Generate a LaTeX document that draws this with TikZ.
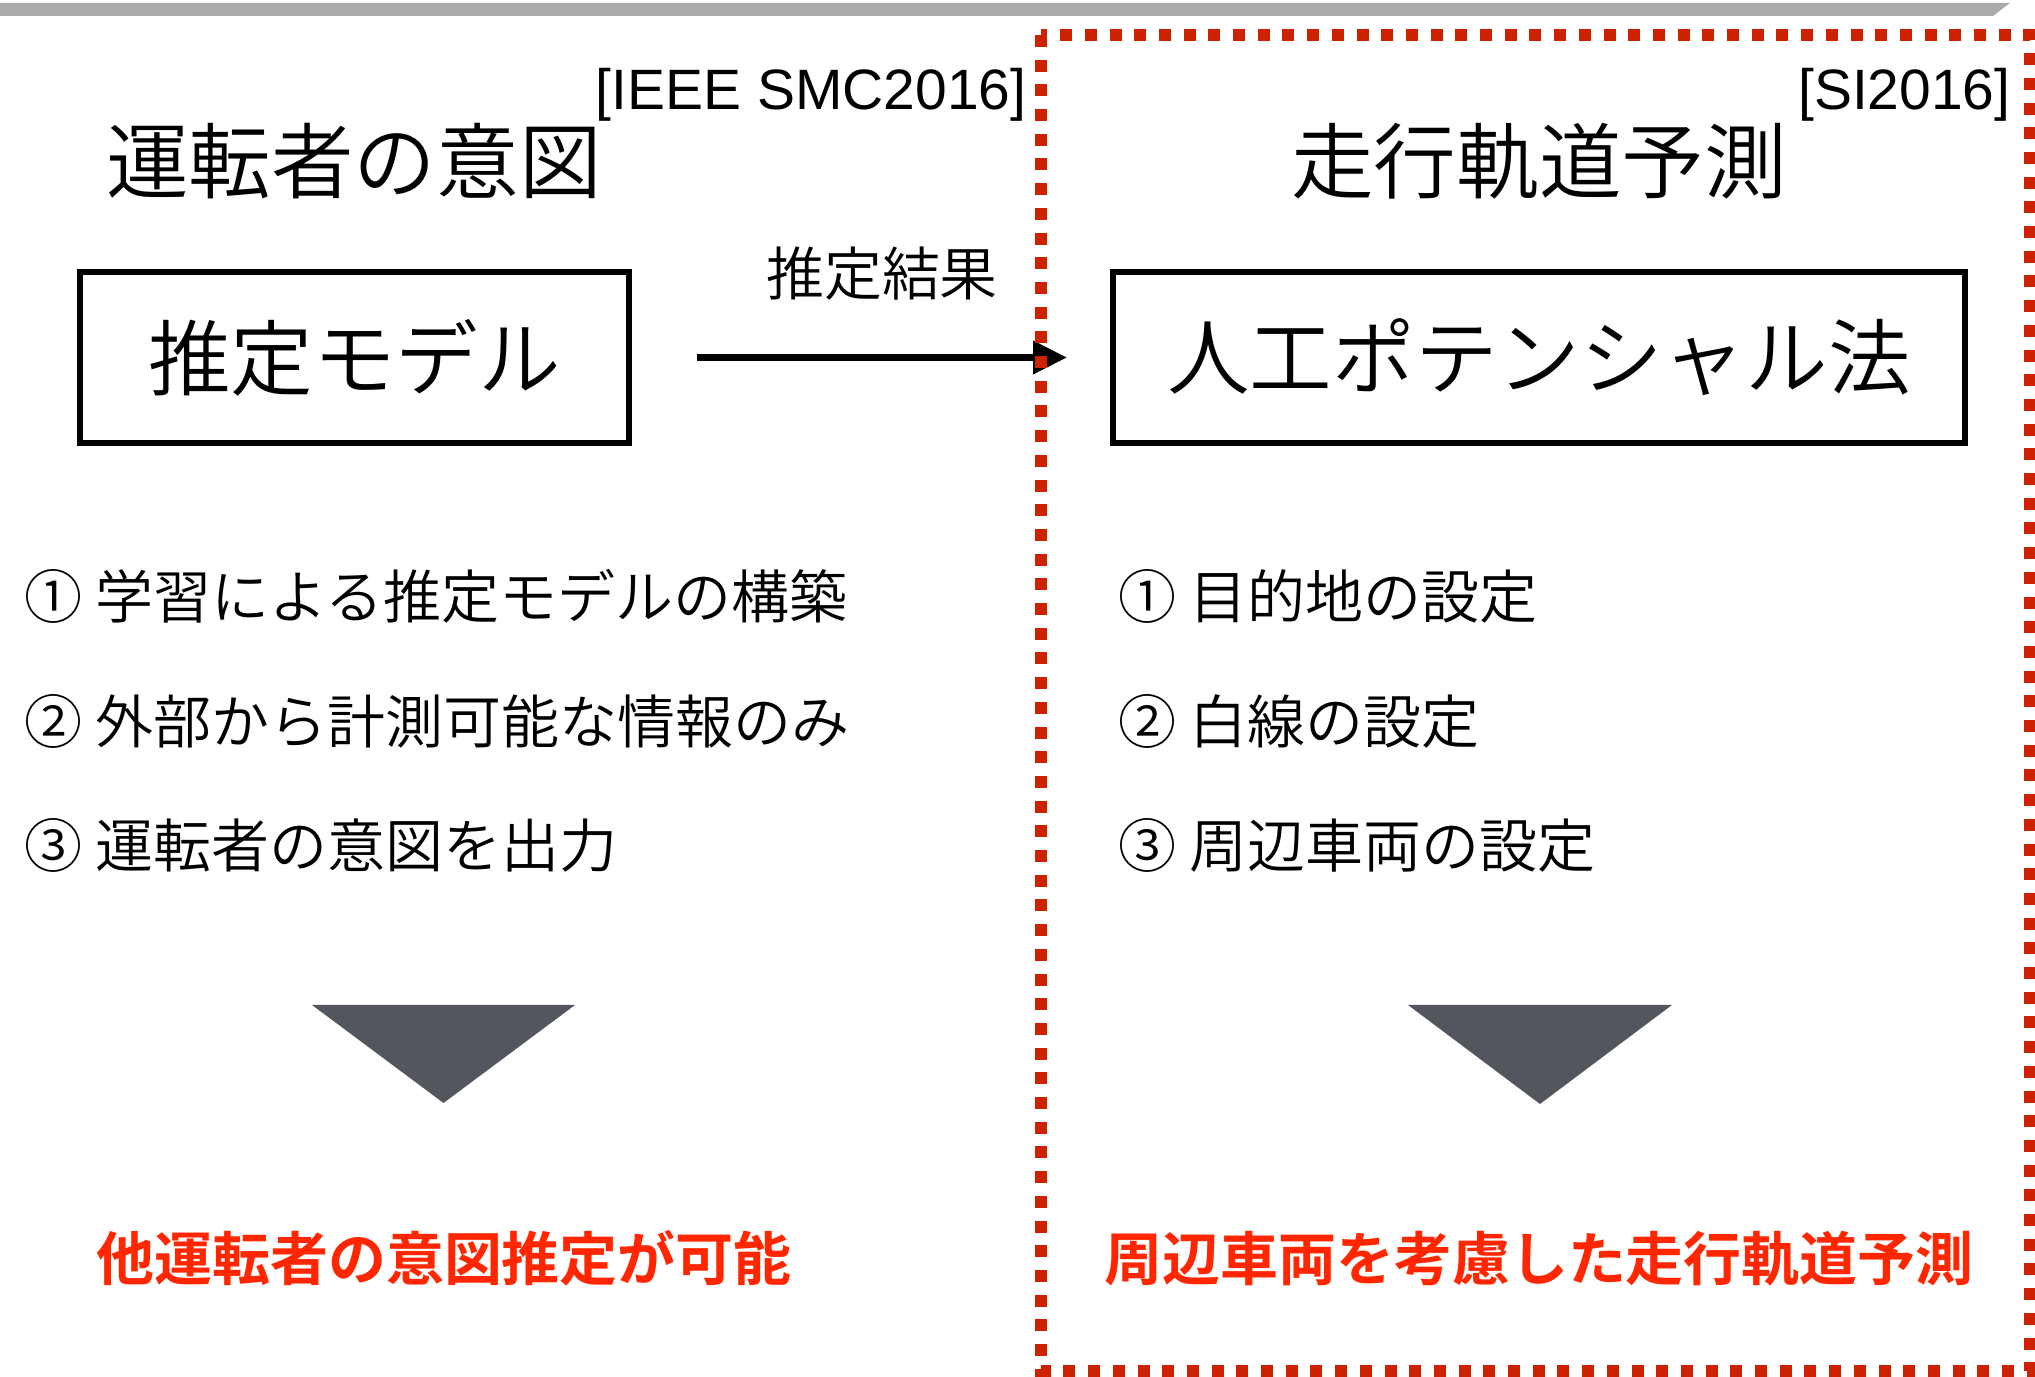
\documentclass[tikz,border=0pt]{standalone}
\usepackage{fontspec}
\setmainfont{Liberation Sans}
\newfontfamily\cjk{Noto Sans CJK JP}[UprightFont={* DemiLight}, BoldFont={* Bold}]
\usetikzlibrary{arrows.meta}
\definecolor{boxred}{RGB}{204,34,0}
\definecolor{txtred}{RGB}{255,38,0}
\definecolor{tricol}{RGB}{83,87,93}
\definecolor{barcol}{RGB}{168,171,170}
\begin{document}
\begin{tikzpicture}[x=0.1mm,y=-0.1mm,
  titletext/.style={font=\cjk\fontsize{23.5pt}{28pt}\selectfont, inner sep=0pt, anchor=base},
  citetext/.style={font=\fontsize{16.2pt}{19pt}\selectfont, inner sep=0pt, anchor=base east},
  boxnode/.style={draw=black, line width=0.6mm, outer sep=0pt, inner sep=0pt, font=\cjk\fontsize{23.5pt}{28pt}\selectfont},
  itemtext/.style={font=\cjk\fontsize{16.5pt}{20pt}\selectfont, inner sep=0pt, anchor=base west},
  labeltext/.style={font=\cjk\fontsize{16.5pt}{20pt}\selectfont, inner sep=0pt, anchor=base},
  restext/.style={font=\cjk\bfseries\fontsize{16.5pt}{20pt}\selectfont, text=txtred, inner sep=0pt, anchor=base},
  arrowline/.style={line width=0.7mm, -{Triangle[length=3.4mm,width=3.2mm]}, shorten <=6.8mm, shorten >=4.6mm},
  tri/.style={fill=tricol},
  frame/.style={draw=boxred, line width=1.2mm, dash pattern=on 1.2mm off 1.27mm}
]
\useasboundingbox (0,0) rectangle (2035,1377);
% top bar
\fill[barcol] (0,3) -- (2010,3) -- (1993,16) -- (0,16) -- cycle;

% titles and citations
\node[citetext] (c1) at (1027,110) {[IEEE SMC2016]};
\node[citetext] (c2) at (2011,110) {[SI2016]};
\node[titletext] (t1) at (354,193) {運転者の意図};
\node[titletext] (t2) at (1539,193) {走行軌道予測};

% boxes
\node[boxnode, minimum width=54.9mm, minimum height=17.1mm] (b1) at (354.5,357.5) {推定モデル};
\node[boxnode, minimum width=85.2mm, minimum height=17.1mm] (b2) at (1539,357.5) {人工ポテンシャル法};
\node[labeltext] (lab) at (882,296) {推定結果};
\draw[arrowline] (b1.east) -- (b2.west);

% lists
\node[itemtext] (l1) at (24,619) {① 学習による推定モデルの構築};
\node[itemtext] (l2) at (24,744) {② 外部から計測可能な情報のみ};
\node[itemtext] (l3) at (24,868) {③ 運転者の意図を出力};
\node[itemtext] (r1) at (1118,619) {① 目的地の設定};
\node[itemtext] (r2) at (1118,744) {② 白線の設定};
\node[itemtext] (r3) at (1118,868) {③ 周辺車両の設定};

% triangles
\fill[tri] (312,1005) -- (575,1005) -- (443.5,1103) -- cycle;
\fill[tri] (1408,1005) -- (1672,1005) -- (1540,1104) -- cycle;

% results
\node[restext] (res1) at (444,1281) {他運転者の意図推定が可能};
\node[restext] (res2) at (1539,1281) {周辺車両を考慮した走行軌道予測};

% dashed frame
\draw[frame] (1041,35) rectangle (2030,1371);
\end{tikzpicture}
\end{document}
